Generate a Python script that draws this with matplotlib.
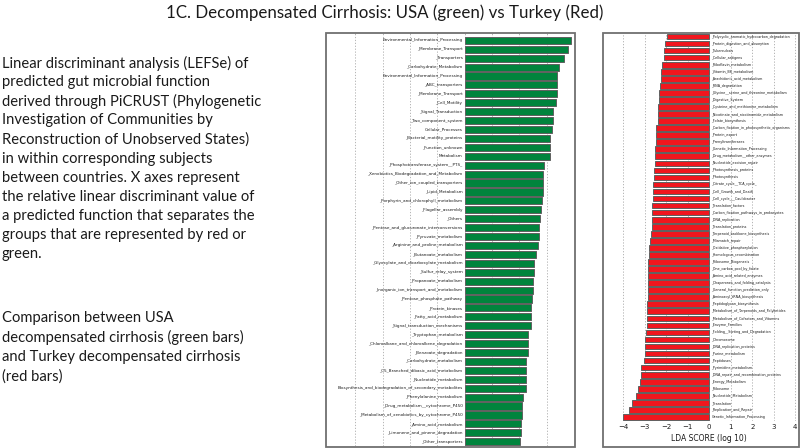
import matplotlib
matplotlib.use("Agg")
import matplotlib.pyplot as plt
from matplotlib.patches import Rectangle

W, H = 800, 448

green_labels = [
    "Environmental_Information_Processing", "_Membrane_Transport", "_Transporters",
    "_Carbohydrate_Metabolism", "Environmental_Information_Processing", "_ABC_transporters",
    "_Membrane_Transport", "_Cell_Motility", "_Signal_Transduction", "_Two_component_system",
    "Cellular_Processes", "_Bacterial_motility_proteins", "_Function_unknown", "Metabolism",
    "_Phosphotransferase_system__PTS_", "_Xenobiotics_Biodegradation_and_Metabolism",
    "_Other_ion_coupled_transporters", "_Lipid_Metabolism",
    "_Porphyrin_and_chlorophyll_metabolism", "_Flagellar_assembly", "_Others",
    "_Pentose_and_glucuronate_interconversions", "_Pyruvate_metabolism",
    "_Arginine_and_proline_metabolism", "_Butanoate_metabolism",
    "_Glyoxylate_and_dicarboxylate_metabolism", "_Sulfur_relay_system",
    "_Propanoate_metabolism", "_Inorganic_ion_transport_and_metabolism",
    "_Pentose_phosphate_pathway", "_Protein_kinases", "_Fatty_acid_metabolism",
    "_Signal_transduction_mechanisms", "_Tryptophan_metabolism",
    "_Chloroalkane_and_chloroalkene_degradation", "_Benzoate_degradation",
    "_Carbohydrate_metabolism", "_C5_Branched_dibasic_acid_metabolism",
    "_Nucleotide_metabolism", "Biosynthesis_and_biodegradation_of_secondary_metabolites",
    "_Phenylalanine_metabolism", "_Drug_metabolism__cytochrome_P450",
    "_Metabolism_of_xenobiotics_by_cytochrome_P450", "_Amino_acid_metabolism",
    "_Limonene_and_pinene_degradation", "_Other_transporters",
]
green_values = [
    3.89, 3.78, 3.62, 3.44, 3.38, 3.38, 3.38, 3.33, 3.25, 3.23, 3.21, 3.14,
    3.12, 3.11, 2.92, 2.88, 2.87, 2.85, 2.83, 2.79, 2.77, 2.73, 2.72, 2.70,
    2.62, 2.54, 2.53, 2.50, 2.49, 2.48, 2.44, 2.42, 2.42, 2.31, 2.30, 2.30,
    2.25, 2.25, 2.24, 2.24, 2.12, 2.10, 2.10, 2.06, 2.05, 2.02,
]

red_labels = [
    "_Polycyclic_aromatic_hydrocarbon_degradation", "_Protein_digestion_and_absorption",
    "_Tuberculosis", "_Cellular_antigens", "_Riboflavin_metabolism", "_Vitamin_B6_metabolism",
    "_Arachidonic_acid_metabolism", "_RNA_degradation",
    "_Glycine__serine_and_threonine_metabolism", "_Digestive_System",
    "_Cysteine_and_methionine_metabolism", "_Nicotinate_and_nicotinamide_metabolism",
    "_Folate_biosynthesis", "_Carbon_fixation_in_photosynthetic_organisms", "_Protein_export",
    "_Prenyltransferases", "_Genetic_Information_Processing", "_Drug_metabolism__other_enzymes",
    "_Nucleotide_excision_repair", "_Photosynthesis_proteins", "_Photosynthesis",
    "_Citrate_cycle__TCA_cycle_", "_Cell_Growth_and_Death", "_Cell_cycle___Caulobacter",
    "_Translation_factors", "_Carbon_fixation_pathways_in_prokaryotes", "_DNA_replication",
    "_Translation_proteins", "_Terpenoid_backbone_biosynthesis", "_Mismatch_repair",
    "_Oxidative_phosphorylation", "_Homologous_recombination", "_Ribosome_Biogenesis",
    "_One_carbon_pool_by_folate", "_Amino_acid_related_enzymes",
    "_Chaperones_and_folding_catalysts", "_General_function_prediction_only",
    "_Aminoacyl_tRNA_biosynthesis", "_Peptidoglycan_biosynthesis",
    "_Metabolism_of_Terpenoids_and_Polyketides", "_Metabolism_of_Cofactors_and_Vitamins",
    "_Enzyme_Families", "_Folding__Sorting_and_Degradation", "_Chromosome",
    "_DNA_replication_proteins", "_Purine_metabolism", "_Peptidases", "_Pyrimidine_metabolism",
    "_DNA_repair_and_recombination_proteins", "_Energy_Metabolism", "_Ribosome",
    "_Nucleotide_Metabolism", "_Translation", "_Replication_and_Repair",
    "Genetic_Information_Processing",
]
red_values = [
    -1.98, -2.05, -2.09, -2.11, -2.20, -2.23, -2.25, -2.28, -2.31, -2.34, -2.36,
    -2.39, -2.39, -2.47, -2.48, -2.48, -2.51, -2.51, -2.51, -2.56, -2.57, -2.59,
    -2.59, -2.62, -2.64, -2.64, -2.65, -2.65, -2.70, -2.73, -2.79, -2.81, -2.82,
    -2.84, -2.84, -2.84, -2.85, -2.85, -2.87, -2.88, -2.90, -2.91, -2.95, -2.98,
    -2.99, -3.00, -3.04, -3.15, -3.19, -3.20, -3.30, -3.38, -3.57, -3.74, -4.00,
]
x_ticks = [-4, -3, -2, -1, 0, 1, 2, 3, 4]

title = "1C. Decompensated Cirrhosis: USA (green) vs Turkey (Red)"
para1 = ["Linear discriminant analysis (LEFSe) of",
         "predicted gut microbial function",
         "derived through PiCRUST (Phylogenetic",
         "Investigation of Communities by",
         "Reconstruction of Unobserved States)",
         "in within corresponding subjects",
         "between countries. X axes represent",
         "the relative linear discriminant value of",
         "a predicted function that separates the",
         "groups that are represented by red or",
         "green."]
para2 = ["Comparison between USA",
         "decompensated cirrhosis (green bars)",
         "and Turkey decompensated cirrhosis",
         "(red bars)"]

GREEN = "#00843D"
RED = "#F0161E"
EDGE = "#606060"
TXT = "#1a1a1a"

fig = plt.figure(figsize=(W / 100, H / 100), dpi=100)


def rect(x0, y0, x1, y1):
    return [x0 / W, 1 - y1 / H, (x1 - x0) / W, (y1 - y0) / H]


# Title and text
fig.text(385 / W, 1 - 13 / H, title, ha="center", va="center",
         fontsize=12.2, family="Lato", color=TXT)
for i, line in enumerate(para1):
    fig.text(2 / W, 1 - (63 + i * 19.1) / H, line, ha="left", va="center",
             fontsize=10.6, family="Lato", color=TXT)
for i, line in enumerate(para2):
    fig.text(2 / W, 1 - (318 + i * 19.6) / H, line, ha="left", va="center",
             fontsize=10.6, family="Lato", color=TXT)

# Green panel
axg = fig.add_axes(rect(331, 33, 574, 446))
ng = len(green_values)
yg = [ng - 1 - i for i in range(ng)]
axg.barh(yg, green_values, height=0.8, color=GREEN, edgecolor=EDGE, linewidth=0.7, zorder=2)
for t in x_ticks:
    axg.axvline(t, color="#aaaaaa", linestyle=(0, (1.5, 2)), linewidth=0.6, zorder=1)
for y, lab in zip(yg, green_labels):
    axg.text(-0.08, y, lab, ha="right", va="center", fontsize=3.0, color=TXT, zorder=3)
axg.set_xlim(-4.89, 4.0)
axg.set_ylim(-0.48, 45.82)
axg.set_xticks([])
axg.set_yticks([])
for s in axg.spines.values():
    s.set_visible(False)

# Red panel
axr = fig.add_axes(rect(605, 33, 797, 421))
nr = len(red_values)
yr = [nr - 1 - i for i in range(nr)]
axr.barh(yr, red_values, height=0.8, color=RED, edgecolor=EDGE, linewidth=0.7, zorder=2)
for t in x_ticks:
    axr.axvline(t, color="#aaaaaa", linestyle=(0, (1.5, 2)), linewidth=0.6, zorder=1)
for y, lab in zip(yr, red_labels):
    axr.text(0.1, y, lab, ha="left", va="center", fontsize=2.45, color=TXT, zorder=3)
xmin, xmax = -4.84, 4.08
axr.set_xlim(xmin, xmax)
axr.set_ylim(-0.57, 54.5)
axr.set_xticks(x_ticks)
axr.set_xticklabels([str(t).replace("-", "\u2212") for t in x_ticks])
axr.tick_params(axis="x", length=0, pad=2.5, labelsize=5, colors=TXT)
axr.set_yticks([])
for s in axr.spines.values():
    s.set_visible(False)
axr.set_xlabel("LDA SCORE (log 10)", fontsize=5.5, color=TXT)
axr.xaxis.set_label_coords((0 - xmin) / (xmax - xmin), -0.033)

# Frames
for (x0, y0, x1, y1) in [(326, 33, 575, 447), (603, 33, 799, 447)]:
    fig.patches.append(Rectangle((x0 / W, 1 - y1 / H), (x1 - x0) / W, (y1 - y0) / H,
                                 transform=fig.transFigure, fill=False,
                                 edgecolor="#707070", linewidth=1.3, zorder=10))

fig.savefig("out.png", dpi=100)
